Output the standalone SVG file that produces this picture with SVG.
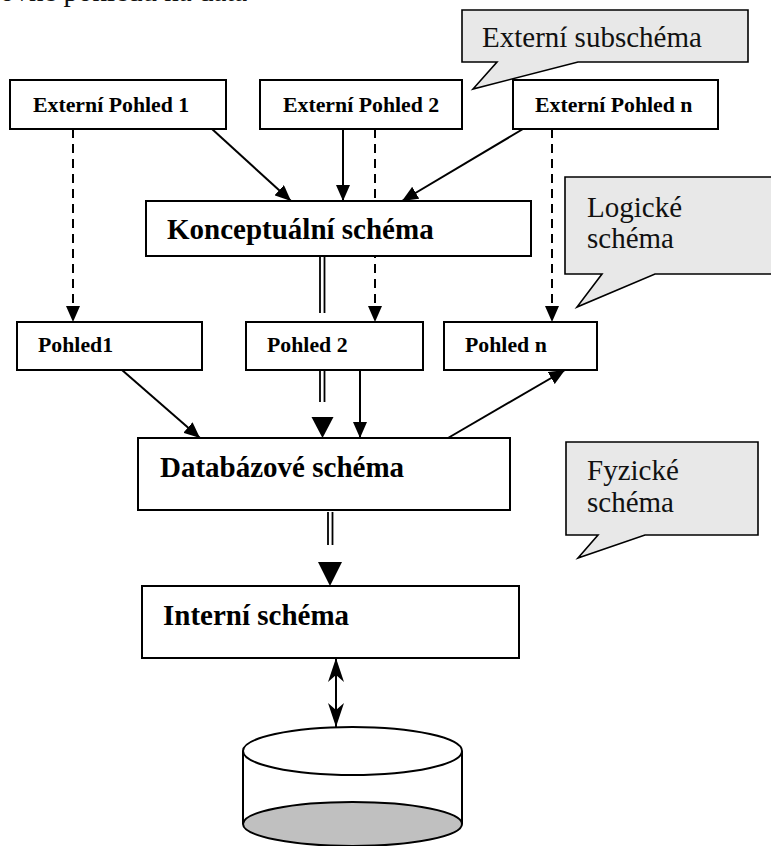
<svg xmlns="http://www.w3.org/2000/svg" width="771" height="846" viewBox="0 0 771 846">
  <style>
    .box { fill: #ffffff; stroke: #000000; stroke-width: 2; }
    .note { fill: #e8e8e8; stroke: #000000; stroke-width: 1.6; stroke-linejoin: miter; }
    .lbl { font-family: "Liberation Serif", "Times New Roman", serif; font-weight: bold; fill: #000000; }
    .sm { font-size: 21.8px; }
    .lg { font-size: 29px; }
    .ntxt { font-family: "Liberation Serif", "Times New Roman", serif; font-size: 29px; fill: #111111; }
    .ln { fill: none; stroke: #000000; stroke-width: 2; }
    .dash { stroke-dasharray: 9 6; }
    .dbl { fill: none; stroke: #000000; stroke-width: 1.8; }
    .head { fill: #000000; stroke: none; }
  </style>
  <defs>
    <marker id="arr" viewBox="0 0 16 14" refX="16" refY="7" markerWidth="16" markerHeight="14" markerUnits="userSpaceOnUse" orient="auto">
      <path d="M0,0 L16,7 L0,14 z" fill="#000000"/>
    </marker>
    <marker id="stealth" viewBox="0 0 24 16" refX="24" refY="8" markerWidth="24" markerHeight="16" markerUnits="userSpaceOnUse" orient="auto-start-reverse">
      <path d="M0,0 L24,8 L0,16 L7,8 z" fill="#000000"/>
    </marker>
  </defs>

  <!-- heading line, partly outside the page -->
  <text class="ntxt" x="0" y="1">ovne pohledu na data</text>

  <!-- connectors -->
  <g id="connectors">
    <path class="ln dash" d="M73,129 V322" marker-end="url(#arr)"/>
    <path class="ln dash" d="M375,129 V322" marker-end="url(#arr)"/>
    <path class="ln dash" d="M552,129 V322" marker-end="url(#arr)"/>
    <path class="ln" d="M212,129 L291,201" marker-end="url(#arr)"/>
    <path class="ln" d="M343,129 V201" marker-end="url(#arr)"/>
    <path class="ln" d="M523,129 L402,201" marker-end="url(#arr)"/>
    <path class="ln" d="M122,370 L200,438" marker-end="url(#arr)"/>
    <path class="ln" d="M360,370 V438" marker-end="url(#arr)"/>
    <path class="ln" d="M448,438 L565,370" marker-end="url(#arr)"/>
    <!-- double-line mappings -->
    <path class="dbl" d="M320,256 V313 M324.5,256 V313"/>
    <path class="dbl" d="M320,370 V402 M324.5,370 V402"/>
    <polygon class="head" points="311.5,417 333.5,417 322.5,438"/>
    <path class="dbl" d="M328,512 V545 M332.5,512 V545"/>
    <polygon class="head" points="318,562 342,562 330,586"/>
    <!-- storage access -->
    <path class="ln" d="M336,658 V727" marker-start="url(#stealth)" marker-end="url(#stealth)"/>
  </g>

  <!-- external views -->
  <g id="ext1">
    <rect class="box" x="10" y="80" width="216" height="49"/>
    <text class="lbl sm" x="33" y="112">Externí Pohled 1</text>
  </g>
  <g id="ext2">
    <rect class="box" x="260" y="80" width="202" height="49"/>
    <text class="lbl sm" x="283" y="112">Externí Pohled 2</text>
  </g>
  <g id="extn">
    <rect class="box" x="513" y="80" width="205" height="49"/>
    <text class="lbl sm" x="535" y="112">Externí Pohled n</text>
  </g>

  <!-- conceptual schema -->
  <g id="konceptualni">
    <rect class="box" x="146" y="201" width="385" height="55"/>
    <text class="lbl lg" x="167" y="239">Konceptuální schéma</text>
  </g>

  <!-- views -->
  <g id="pohled1">
    <rect class="box" x="17" y="322" width="185" height="48"/>
    <text class="lbl sm" x="38" y="352">Pohled1</text>
  </g>
  <g id="pohled2">
    <rect class="box" x="246" y="322" width="177" height="48"/>
    <text class="lbl sm" x="267" y="352">Pohled 2</text>
  </g>
  <g id="pohledn">
    <rect class="box" x="444" y="322" width="153" height="48"/>
    <text class="lbl sm" x="465" y="352">Pohled n</text>
  </g>

  <!-- database schema -->
  <g id="databazove">
    <rect class="box" x="138" y="438" width="372" height="72"/>
    <text class="lbl lg" x="160" y="477">Databázové schéma</text>
  </g>

  <!-- internal schema -->
  <g id="interni">
    <rect class="box" x="142" y="586" width="377" height="72"/>
    <text class="lbl lg" x="163" y="625">Interní schéma</text>
  </g>

  <!-- storage cylinder -->
  <g id="disk">
    <path d="M243,751 V824 A109.5,22 0 0 0 462,824 V751 z" fill="#ffffff" stroke="none"/>
    <ellipse cx="352.5" cy="824" rx="109.5" ry="22" fill="#c0c0c0" stroke="#000000" stroke-width="2"/>
    <path class="ln" d="M243,751 V824 M462,751 V824"/>
    <ellipse cx="352.5" cy="751" rx="109.5" ry="24" fill="#ffffff" stroke="#000000" stroke-width="2"/>
  </g>

  <!-- callouts -->
  <g id="note-externi">
    <path class="note" d="M462,10 H748 V62 H578 L473,89 L497,62 H462 z"/>
    <text class="ntxt" x="482" y="47">Externí subschéma</text>
  </g>
  <g id="note-logicke">
    <path class="note" d="M565,177 H780 V274 H655 L577,307 L602,274 H565 z"/>
    <text class="ntxt" x="587" y="217">Logické</text>
    <text class="ntxt" x="587" y="248">schéma</text>
  </g>
  <g id="note-fyzicke">
    <path class="note" d="M566,442 H758 V535 H645 L578,558 L598,535 H566 z"/>
    <text class="ntxt" x="587" y="480">Fyzické</text>
    <text class="ntxt" x="587" y="512">schéma</text>
  </g>
</svg>
